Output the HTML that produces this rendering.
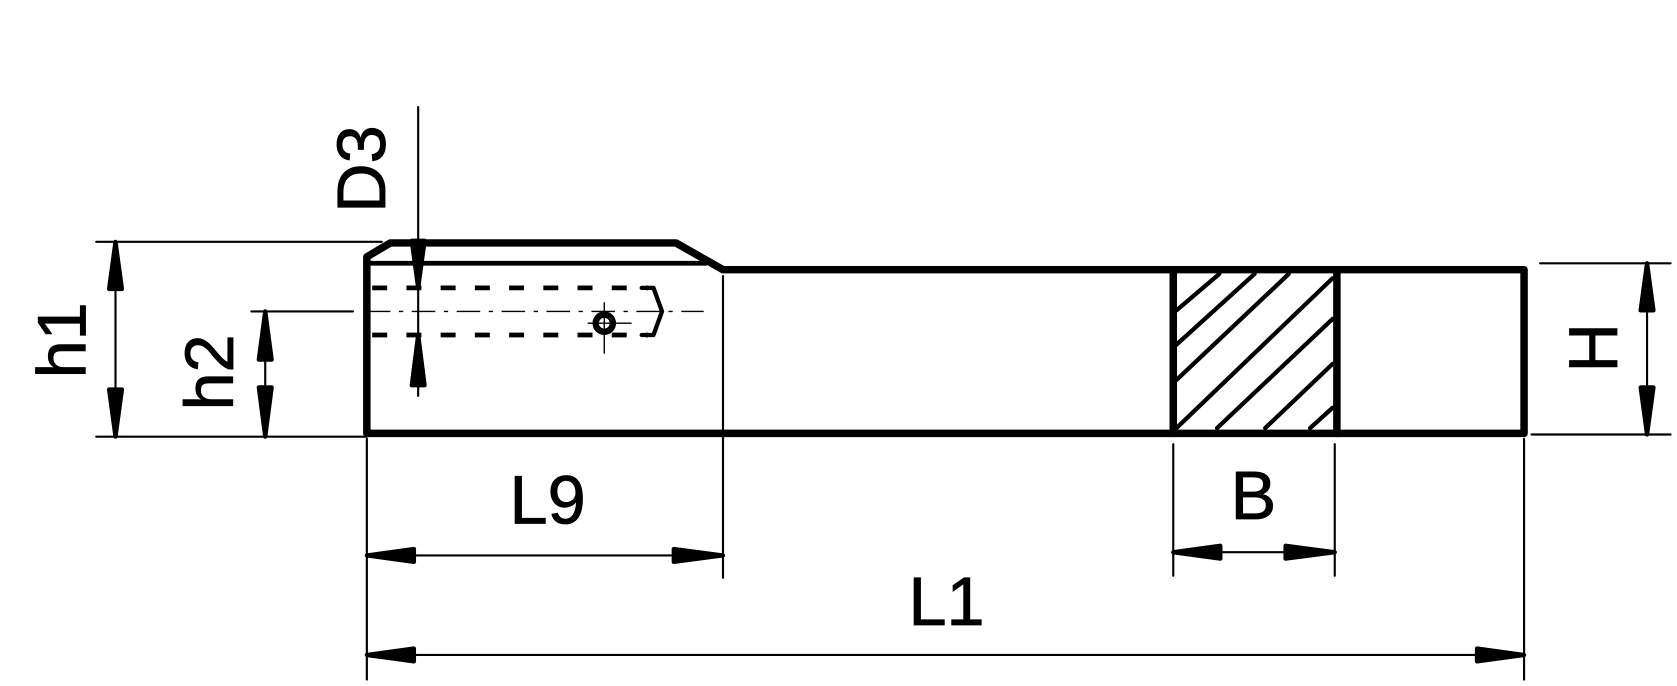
<!DOCTYPE html>
<html><head><meta charset="utf-8"><style>
html,body{margin:0;padding:0;background:#fff;}
svg{display:block;}
text{font-family:"Liberation Sans",sans-serif;fill:#000;}
</style></head><body>
<svg width="1677" height="686" viewBox="0 0 1568 641" preserveAspectRatio="none" xmlns="http://www.w3.org/2000/svg">
<g fill="none" stroke="#000" stroke-linecap="round" stroke-linejoin="round">
<path d="M343,405 L343,240 L365,227 L632,227 L676,252 L1425,252 L1425,405 Z" stroke-width="7"/>
<line x1="343" y1="246" x2="660" y2="246" stroke-width="4.5"/>
<line x1="1097" y1="252" x2="1097" y2="405" stroke-width="7"/>
<line x1="1250" y1="252" x2="1250" y2="405" stroke-width="7"/>
<g stroke-width="4">
<line x1="1100" y1="290" x2="1140" y2="256"/>
<line x1="1100" y1="322" x2="1173" y2="256"/>
<line x1="1100" y1="355" x2="1205" y2="256"/>
<line x1="1100" y1="400" x2="1246" y2="260"/>
<line x1="1138" y1="400" x2="1246" y2="298"/>
<line x1="1183" y1="400" x2="1246" y2="340"/>
<line x1="1225" y1="400" x2="1246" y2="381"/>
</g>
<g stroke-width="4.5" stroke-dasharray="14 18" stroke-linecap="butt">
<line x1="348" y1="269" x2="606" y2="269"/>
<line x1="348" y1="313" x2="606" y2="313"/>
</g>
<path d="M600,269 L611,269 L619,291 L611,313 L600,313" stroke-width="4"/>
<line x1="343" y1="291" x2="658" y2="291" stroke-width="1.3" stroke-dasharray="22 8 4 8" stroke-linecap="butt"/>
<circle cx="565" cy="302" r="8" stroke-width="6"/>
<line x1="565" y1="283" x2="565" y2="330" stroke-width="1.3"/>
<line x1="550" y1="302" x2="590" y2="302" stroke-width="1.3"/>
<g stroke-width="2">
<line x1="90" y1="226" x2="357" y2="226"/>
<line x1="90" y1="408" x2="343" y2="408"/>
<line x1="108" y1="226" x2="108" y2="408"/>
<line x1="235" y1="291" x2="330" y2="291"/>
<line x1="248" y1="291" x2="248" y2="408"/>
<line x1="391" y1="100" x2="391" y2="370"/>
<line x1="1440" y1="246" x2="1562" y2="246"/>
<line x1="1432" y1="406" x2="1562" y2="406"/>
<line x1="1540" y1="246" x2="1540" y2="406"/>
<line x1="343" y1="410" x2="343" y2="635"/>
<line x1="676" y1="258" x2="676" y2="540"/>
<line x1="1425" y1="410" x2="1425" y2="635"/>
<line x1="1097" y1="415" x2="1097" y2="538"/>
<line x1="1248" y1="415" x2="1248" y2="538"/>
<line x1="343" y1="519" x2="676" y2="519"/>
<line x1="1097" y1="516" x2="1248" y2="516"/>
<line x1="343" y1="612" x2="1425" y2="612"/>
</g>
</g>
<g fill="#000" stroke="#000" stroke-width="4" stroke-linejoin="round">
<polygon points="108,226 102,270 114,270"/>
<polygon points="108,408 102,364 114,364"/>
<polygon points="248,291 242,336 254,336"/>
<polygon points="248,408 242,362 254,362"/>
<polygon points="391,269 385,225 397,225"/>
<polygon points="391,313 385,360 397,360"/>
<polygon points="1540,246 1534,290 1546,290"/>
<polygon points="1540,406 1534,362 1546,362"/>
<polygon points="343,519 387,513 387,525"/>
<polygon points="676,519 630,513 630,525"/>
<polygon points="1097,516 1141,510 1141,522"/>
<polygon points="1248,516 1202,510 1202,522"/>
<polygon points="343,612 387,606 387,618"/>
<polygon points="1425,612 1381,606 1381,618"/>
</g>
<g font-size="64" stroke="#000" stroke-width="0.8">
<text x="80" y="318" text-anchor="middle" transform="rotate(-90 80 318)">h1</text>
<text x="218" y="348" text-anchor="middle" transform="rotate(-90 218 348)">h2</text>
<text x="360" y="158" text-anchor="middle" transform="rotate(-90 360 158)">D3</text>
<text x="1512" y="325" text-anchor="middle" transform="rotate(-90 1512 325)">H</text>
<text x="512" y="489" text-anchor="middle">L9</text>
<text x="1172" y="485" text-anchor="middle">B</text>
<text x="885" y="584" text-anchor="middle">L1</text>
</g>
</svg>
</body></html>
